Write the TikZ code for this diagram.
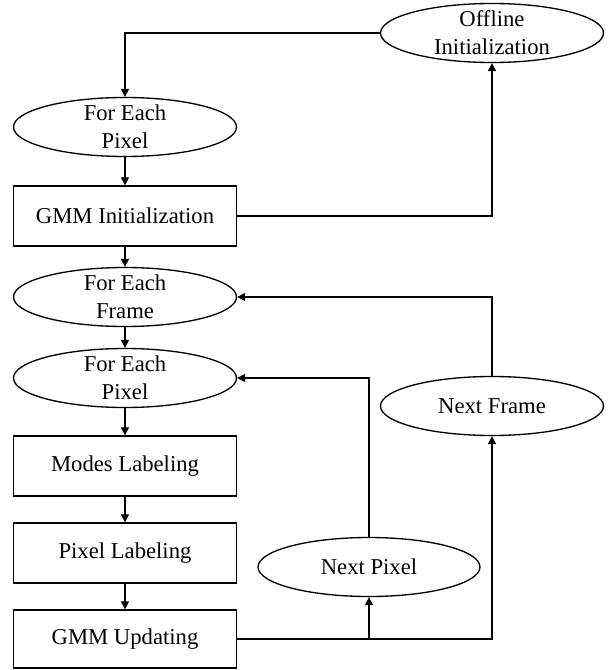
\documentclass[tikz,border=0pt]{standalone}
\usepackage{fontspec}
\setmainfont{Liberation Serif}
\usetikzlibrary{shapes.geometric,arrows.meta}
\tikzset{
  lbl/.style={font=\fontsize{17}{21}\selectfont, align=center, line width=1pt},
  ell/.style={lbl, draw, ellipse, inner xsep=0pt, inner ysep=-20pt, minimum width=167.25pt, minimum height=44.25pt},
  boxn/.style={lbl, draw, rectangle, inner sep=0pt, minimum width=167.25pt, minimum height=45pt},
  arr/.style={line width=1pt, -{Triangle[length=6pt,width=6pt]}},
  ln/.style={line width=1pt}
}
\begin{document}
\begin{tikzpicture}[x=0.75pt,y=-0.75pt]
\useasboundingbox (0,0) rectangle (609,670);
\node[ell] (off) at (492,33) {Offline\\Initialization};
\node[ell] (fep1) at (125,127) {For Each\\Pixel};
\node[boxn] (gmmi) at (125,216) {GMM Initialization};
\node[ell] (fef) at (125,297) {For Each\\Frame};
\node[ell] (fep2) at (125,378) {For Each\\Pixel};
\node[ell] (nf) at (492,406) {Next Frame};
\node[boxn] (ml) at (125,466) {Modes Labeling};
\node[boxn] (pl) at (125,553) {Pixel Labeling};
\node[boxn, minimum height=43.5pt] (gu) at (125,639) {GMM Updating};
\node[ell, minimum width=166.5pt] (np) at (369,567) {Next Pixel};
\coordinate (br) at (np.south |- gu.east);

\draw[arr] (off.west) -| (fep1.north);
\draw[arr] (fep1.south) -- (gmmi.north);
\draw[arr] (gmmi.east) -| (off.south);
\draw[arr] (gmmi.south) -- (fef.north);
\draw[arr] (fef.south) -- (fep2.north);
\draw[arr] (fep2.south) -- (ml.north);
\draw[arr] (ml.south) -- (pl.north);
\draw[arr] (pl.south) -- (gu.north);
\draw[arr] (gu.east) -| (nf.south);
\draw[arr] (br) -- (np.south);
\draw[arr] (np.north) |- (fep2.east);
\draw[arr] (nf.north) |- (fef.east);
\end{tikzpicture}
\end{document}
